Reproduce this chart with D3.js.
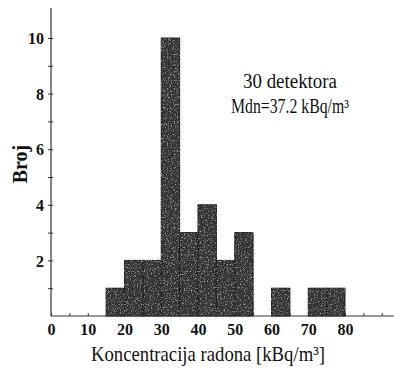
<!DOCTYPE html>
<html>
<head>
<meta charset="utf-8">
<script src="https://cdn.jsdelivr.net/npm/d3@7"></script>
<style>
  body { margin: 0; background: #fff; }
  svg { display: block; }
  text { font-family: "Liberation Serif", "DejaVu Serif", serif; fill: #111; }
</style>
</head>
<body>
<div id="chart"></div>
<script>
// histogram of radon concentration, bins of 5 kBq/m3
const binStarts = [15, 20, 25, 30, 35, 40, 45, 50, 55, 60, 65, 70, 75];
const counts    = [1, 2, 2, 10, 3, 4, 2, 3, 0, 1, 0, 1, 1];
const binWidth = 5;
const xTickLabels = [0, 10, 20, 30, 40, 50, 60, 70, 80];
const yTickLabels = [2, 4, 6, 8, 10];
const noteLines = ["30 detektora", "Mdn=37.2 kBq/m\u00b3"];

const WIDTH = 394;
const HEIGHT = 369;

const svg = d3.select("#chart")
    .append("svg")
        .attr("width", WIDTH)
        .attr("height", HEIGHT);

// light grain for the scanned look
const defs = svg.append("defs");
const grain = defs.append("filter").attr("id", "grain");
grain.append("feTurbulence")
    .attr("type", "fractalNoise")
    .attr("baseFrequency", "0.7")
    .attr("numOctaves", 2)
    .attr("seed", 3)
    .attr("result", "noise");
grain.append("feColorMatrix")
    .attr("in", "noise")
    .attr("type", "matrix")
    .attr("values", "0 0 0 0 0.5  0 0 0 0 0.5  0 0 0 0 0.5  0 0 0 -2.6 1.15")
    .attr("result", "specks");
grain.append("feComposite")
    .attr("in", "specks")
    .attr("in2", "SourceGraphic")
    .attr("operator", "in")
    .attr("result", "clipped");
grain.append("feMerge").selectAll("feMergeNode")
    .data(["SourceGraphic", "clipped"])
    .enter().append("feMergeNode").attr("in", d => d);

const X = d3.scaleLinear().domain([0, 80]).range([51, 345]);
const Y = d3.scaleLinear().domain([0, 10]).range([316, 38]);

// bars
svg.append("g")
    .selectAll("rect")
    .data(binStarts.map((s, i) => ({start: s, n: counts[i]})).filter(d => d.n > 0))
    .enter()
    .append("rect")
        .attr("x", d => X(d.start))
        .attr("y", d => Y(d.n))
        .attr("width", d => X(d.start + binWidth) - X(d.start))
        .attr("height", d => Y(0) - Y(d.n))
        .attr("fill", "#353535")
        .attr("stroke", "#1a1a1a")
        .attr("stroke-width", 1)
        .attr("filter", "url(#grain)");

// x axis
const xAxis = d3.axisBottom(X)
    .tickValues(d3.range(0, 95, 5))
    .tickSize(0)
    .tickFormat(d => xTickLabels.includes(d) ? d : "");
const gx = svg.append("g")
    .attr("transform", "translate(0," + Y(0) + ")")
    .call(xAxis);
gx.select(".domain").remove();
gx.append("line")
    .attr("x1", X(0)).attr("x2", WIDTH)
    .attr("stroke", "#333").attr("stroke-width", 1.2);
gx.selectAll(".tick line").remove();
gx.selectAll(".tick").append("line")
    .attr("y1", -3).attr("y2", 0)
    .attr("stroke", "#333");
gx.selectAll(".tick text")
    .attr("dy", 0)
    .attr("y", 19)
    .attr("font-size", "16px")
    .attr("font-weight", "bold")
    .attr("font-family", "Liberation Serif, serif");

// y axis
const yAxis = d3.axisLeft(Y)
    .tickValues(d3.range(1, 11))
    .tickSize(0)
    .tickFormat(d => yTickLabels.includes(d) ? d : "");
const gy = svg.append("g")
    .attr("transform", "translate(" + X(0) + ",0)")
    .call(yAxis);
gy.select(".domain").remove();
gy.append("line")
    .attr("y1", Y(0)).attr("y2", 8)
    .attr("stroke", "#333").attr("stroke-width", 1.2);
gy.selectAll(".tick line").remove();
gy.selectAll(".tick").append("line")
    .attr("x1", -3).attr("x2", 2)
    .attr("stroke", "#333");
gy.selectAll(".tick text")
    .attr("x", -7)
    .attr("dy", "0.36em")
    .attr("font-size", "16px")
    .attr("font-weight", "bold")
    .attr("font-family", "Liberation Serif, serif");

// axis titles
svg.append("text")
    .attr("x", 208)
    .attr("y", 361)
    .attr("text-anchor", "middle")
    .attr("font-size", "21px")
    .attr("textLength", 234)
    .attr("lengthAdjust", "spacingAndGlyphs")
    .text("Koncentracija radona [kBq/m\u00b3]");

svg.append("text")
    .attr("transform", "translate(27,164) rotate(-90)")
    .attr("text-anchor", "middle")
    .attr("font-size", "20px")
    .attr("font-weight", "bold")
    .text("Broj");

// note
svg.append("g")
    .selectAll("text")
    .data(noteLines)
    .enter()
    .append("text")
        .attr("x", 290)
        .attr("y", (d, i) => 88 + i * 25)
        .attr("text-anchor", "middle")
        .attr("font-size", "20px")
        .attr("textLength", (d, i) => i === 0 ? 94 : 118)
        .attr("lengthAdjust", "spacingAndGlyphs")
        .text(d => d);
</script>
</body>
</html>
